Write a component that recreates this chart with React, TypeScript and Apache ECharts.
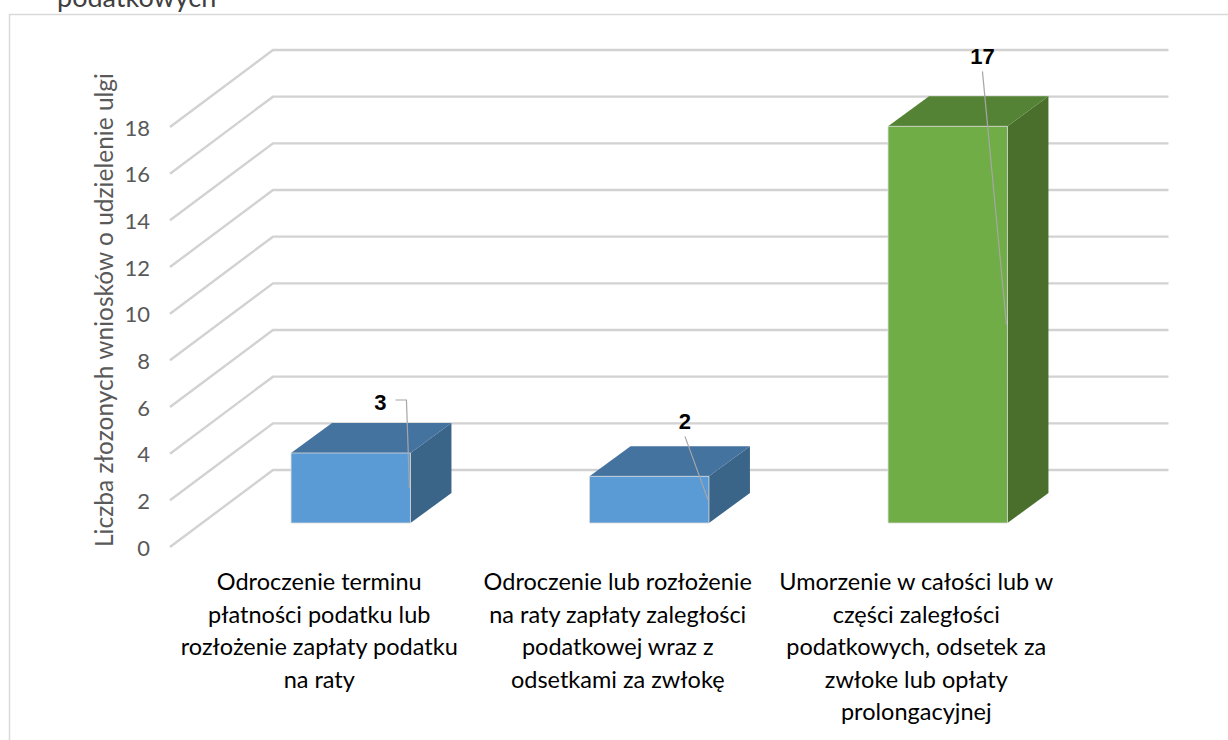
import React, { useEffect, useRef } from "react";
import * as echarts from "echarts";

// ---- data ----
const categories: string[] = [
  "Odroczenie terminu\npłatności podatku lub\nrozłożenie zapłaty podatku\nna raty",
  "Odroczenie lub rozłożenie\nna raty zapłaty zaległości\npodatkowej wraz z\nodsetkami za zwłokę",
  "Umorzenie w całości lub w\nczęści zaległości\npodatkowych, odsetek za\nzwłoke lub opłaty\nprolongacyjnej",
];
const values: number[] = [3, 2, 17];
const yTicks: number[] = [0, 2, 4, 6, 8, 10, 12, 14, 16, 18];
const axisTitle = "Liczba złozonych wniosków o udzielenie ulgi";
const topText = "podatkowych";

// ---- styles / layout ----
const barColors = [
  { front: "#5B9BD5", top: "#4473A0", side: "#3A6488" },
  { front: "#5B9BD5", top: "#4473A0", side: "#3A6488" },
  { front: "#70AD47", top: "#558335", side: "#4A6F2D" },
];
const labelLayout = [
  { dx: -30, dy: -51, elbow: true },
  { dx: -24, dy: -55, elbow: false },
  { dx: -25, dy: -70, elbow: false },
];
const WALL_DX = 103;
const WALL_DY = -77;
const FRONT_DX = 31.5;
const FRONT_DY = -24;
const DEPTH_DX = 41;
const DEPTH_DY = -30;
const BAR_FRAC = 0.4;
const GRID_COLOR = "#d2d2d2";
const FONT = "Lato, 'Open Sans', sans-serif";

export default function App() {
  const ref = useRef<HTMLDivElement>(null);
  useEffect(() => {
    if (!ref.current) return;
    const chart = echarts.init(ref.current, undefined, { renderer: "svg" });
    const option: any = {
      animation: false,
      backgroundColor: "#ffffff",
      grid: { left: 170, top: 127, width: 895.5, height: 420 },
      xAxis: {
        type: "category",
        data: categories,
        axisLine: { show: false },
        axisTick: { show: false },
        splitLine: { show: false },
        axisLabel: {
          interval: 0,
          margin: 18,
          color: "#000000",
          fontSize: 23.5,
          lineHeight: 32.5,
          fontFamily: FONT,
          align: "center",
        },
      },
      yAxis: {
        type: "value",
        min: 0,
        max: 18,
        interval: 2,
        axisLine: { show: false },
        axisTick: { show: false },
        splitLine: { show: false },
        axisLabel: { color: "#595959", fontSize: 22, margin: 20, fontFamily: FONT },
      },
      graphic: [
        {
          type: "rect",
          z: -10,
          shape: { x: 9.5, y: 14.5, width: 1300, height: 800 },
          style: { fill: "none", stroke: "#d9d9d9", lineWidth: 1.5 },
        },
        {
          type: "text",
          x: 57,
          y: 10,
          style: {
            text: topText,
            fill: "#404040",
            fontSize: 27,
            fontFamily: FONT,
            textAlign: "left",
            textVerticalAlign: "bottom",
          },
        },
        {
          type: "text",
          x: 103,
          y: 310,
          rotation: Math.PI / 2,
          style: {
            text: axisTitle,
            fill: "#595959",
            fontSize: 24.5,
            fontFamily: FONT,
            textAlign: "center",
            textVerticalAlign: "middle",
          },
        },
      ],
      series: [
        {
          type: "custom",
          name: "grid",
          z: 1,
          clip: false,
          data: yTicks.map((v) => [0, v]),
          renderItem: (params: any, api: any) => {
            const p = api.coord([0, api.value(1)]);
            const band = api.size([1, 0])[0];
            const left = p[0] - band / 2;
            const bx = left + WALL_DX;
            const by = p[1] + WALL_DY;
            return {
              type: "polyline",
              shape: {
                points: [
                  [left, p[1]],
                  [bx, by],
                  [bx + band * categories.length, by],
                ],
              },
              style: { stroke: GRID_COLOR, lineWidth: 2.4, fill: "none" },
            };
          },
        },
        {
          type: "custom",
          name: "bars",
          z: 5,
          clip: false,
          data: values.map((v, i) => [i, v]),
          renderItem: (params: any, api: any) => {
            const i = api.value(0);
            const v = api.value(1);
            const base = api.coord([i, 0]);
            const topP = api.coord([i, v]);
            const band = api.size([1, 0])[0];
            const w = band * BAR_FRAC;
            const fl = base[0] + FRONT_DX - w / 2;
            const fr = fl + w;
            const fb = base[1] + FRONT_DY;
            const ft = topP[1] + FRONT_DY;
            const c = barColors[i];
            const lay = labelLayout[i];
            const lx = fr + lay.dx;
            const ly = ft + lay.dy;
            const midY = (ft + fb) / 2;
            const leader = lay.elbow
              ? [
                  [lx + 15, ly - 2],
                  [fr - 4, ly - 2],
                  [fr - 1, midY],
                ]
              : [
                  [lx, ly + 15],
                  [fr - 1, midY],
                ];
            return {
              type: "group",
              children: [
                {
                  type: "polygon",
                  shape: {
                    points: [
                      [fr, ft],
                      [fr + DEPTH_DX, ft + DEPTH_DY],
                      [fr + DEPTH_DX, fb + DEPTH_DY],
                      [fr, fb],
                    ],
                  },
                  style: { fill: c.side },
                },
                {
                  type: "polygon",
                  shape: {
                    points: [
                      [fl, ft],
                      [fr, ft],
                      [fr + DEPTH_DX, ft + DEPTH_DY],
                      [fl + DEPTH_DX, ft + DEPTH_DY],
                    ],
                  },
                  style: { fill: c.top },
                },
                {
                  type: "rect",
                  shape: { x: fl, y: ft, width: w, height: fb - ft },
                  style: { fill: c.front, stroke: "#d9d9d9", lineWidth: 0.8 },
                },
                {
                  type: "polyline",
                  shape: { points: leader },
                  style: { stroke: "#a6a6a6", lineWidth: 1.2, fill: "none" },
                },
                {
                  type: "text",
                  style: {
                    text: String(v),
                    x: lx,
                    y: ly,
                    align: "center",
                    verticalAlign: "middle",
                    fontSize: 22,
                    fontWeight: "bold",
                    fontFamily: "'Liberation Sans', Arial, sans-serif",
                    fill: "#000000",
                  },
                },
              ],
            };
          },
        },
      ],
    };
    chart.setOption(option);
    return () => chart.dispose();
  }, []);
  return (
    <div
      ref={ref}
      style={{ position: "absolute", left: 0, top: 0, width: 1228, height: 740 }}
    />
  );
}
